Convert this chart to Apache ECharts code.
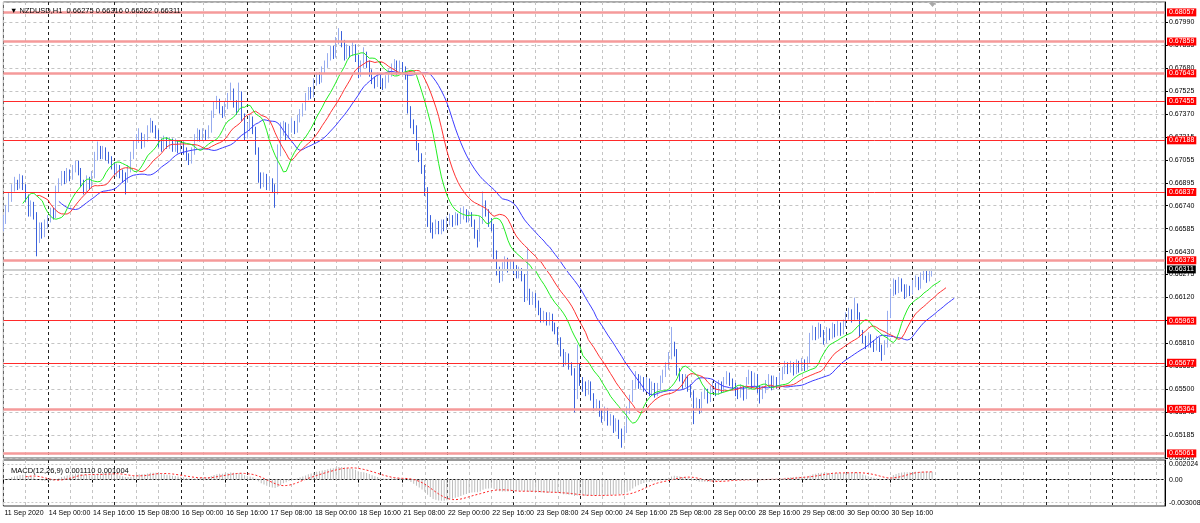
<!DOCTYPE html>
<html>
<head>
<meta charset="utf-8">
<script src="https://cdn.jsdelivr.net/npm/echarts/dist/echarts.min.js"></script>
<style>
html,body{margin:0;padding:0;background:#fff;}
#chart{width:1200px;height:523px;}
</style>
</head>
<body>
<div id="chart"></div>
<script>
// ---------------- DATA ----------------
const symbolTitle = 'NZDUSD,H1  0.66275 0.66316 0.66262 0.66311';
const macdTitle = 'MACD(12,26,9) 0.001110 0.001004';

// x-axis tick labels, one every 16 hourly bars starting at bar 0
const dateLabels = ['11 Sep 2020','14 Sep 00:00','14 Sep 16:00','15 Sep 08:00','16 Sep 00:00','16 Sep 16:00',
  '17 Sep 08:00','18 Sep 00:00','18 Sep 16:00','21 Sep 08:00','22 Sep 00:00','22 Sep 16:00','23 Sep 08:00',
  '24 Sep 00:00','24 Sep 16:00','25 Sep 08:00','28 Sep 00:00','28 Sep 16:00','29 Sep 08:00','30 Sep 00:00','30 Sep 16:00'];

// price axis tick labels (bottom to top)
const priceTickLabels = ['0.65030','0.65185','0.65345','0.65500','0.65655','0.65810','0.65965','0.66120','0.66275',
  '0.66430','0.66585','0.66740','0.66895','0.67055','0.67215','0.67370','0.67525','0.67680','0.67835','0.67990'];

// horizontal levels
const strongLevels = [0.68057, 0.67859, 0.67643, 0.66373, 0.65364, 0.65061];
const thinLevels = [0.67455, 0.67188, 0.66837, 0.65963, 0.65677];
const currentPrice = 0.66311;

// MACD pane labels
const macdTicks = [0.002024, 0, -0.003008];
const macdTickLabels = ['0.002024', '0.00', '-0.003008'];

// hourly bars: open of first bar, then close / high / low of every bar (open = previous close)
const firstOpen = 0.6660;
const closes = [
0.6665,0.6672,0.6680,0.6686,0.6690,0.6688,0.6693,0.6687,0.6680,0.6670,0.6675,0.6668,0.6652,0.6660,0.6655,0.6662,
0.6665,0.6670,0.6668,0.6685,0.6690,0.6695,0.6692,0.6697,0.6694,0.6699,0.6703,0.6698,0.6690,0.6685,0.6692,0.6688,
0.6695,0.6708,0.6712,0.6709,0.6712,0.6708,0.6706,0.6702,0.6698,0.6700,0.6696,0.6694,0.6692,0.6699,0.6708,0.6716,
0.6720,0.6722,0.6716,0.6720,0.6726,0.6730,0.6727,0.6724,0.6717,0.6714,0.6719,0.6716,0.6718,0.6714,0.6717,0.6713,
0.6716,0.6712,0.6708,0.6705,0.6711,0.6720,0.6724,0.6721,0.6724,0.6722,0.6726,0.6736,0.6742,0.6745,0.6740,0.6737,
0.6742,0.6748,0.6752,0.6744,0.6740,0.6750,0.6735,0.6722,0.6728,0.6733,0.6726,0.6712,0.6693,0.6690,0.6694,0.6688,
0.6691,0.6686,0.6684,0.6710,0.6725,0.6729,0.6722,0.6727,0.6730,0.6726,0.6733,0.6737,0.6741,0.6748,0.6752,0.6750,
0.6758,0.6762,0.6760,0.6766,0.6770,0.6775,0.6780,0.6777,0.6786,0.6790,0.6785,0.6776,0.6781,0.6778,0.6782,0.6775,
0.6764,0.6770,0.6777,0.6771,0.6765,0.6760,0.6757,0.6762,0.6758,0.6756,0.6760,0.6764,0.6768,0.6771,0.6766,0.6770,
0.6767,0.6763,0.6740,0.6730,0.6727,0.6715,0.6708,0.6700,0.6685,0.6665,0.6660,0.6658,0.6662,0.6658,0.6662,0.6660,
0.6664,0.6666,0.6663,0.6667,0.6664,0.6668,0.6670,0.6666,0.6668,0.6663,0.6656,0.6652,0.6664,0.6675,0.6670,0.6663,
0.6660,0.6642,0.6630,0.6625,0.6633,0.6637,0.6632,0.6635,0.6631,0.6628,0.6630,0.6626,0.6612,0.6615,0.6610,0.6613,
0.6608,0.6603,0.6598,0.6600,0.6596,0.6599,0.6592,0.6590,0.6583,0.6575,0.6568,0.6572,0.6566,0.6562,0.6545,0.6565,
0.6555,0.6552,0.6548,0.6553,0.6545,0.6538,0.6540,0.6534,0.6530,0.6535,0.6528,0.6530,0.6524,0.6527,0.6520,0.6518,
0.6522,0.6535,0.6543,0.6553,0.6558,0.6553,0.6556,0.6551,0.6555,0.6548,0.6552,0.6547,0.6551,0.6556,0.6560,0.6565,
0.6572,0.6578,0.6575,0.6562,0.6558,0.6553,0.6557,0.6551,0.6547,0.6539,0.6541,0.6536,0.6545,0.6548,0.6543,0.6549,
0.6552,0.6548,0.6553,0.6550,0.6555,0.6559,0.6555,0.6552,0.6548,0.6546,0.6550,0.6545,0.6555,0.6560,0.6553,0.6558,
0.6550,0.6545,0.6549,0.6553,0.6557,0.6552,0.6556,0.6553,0.6558,0.6562,0.6566,0.6563,0.6566,0.6562,0.6567,0.6564,
0.6568,0.6565,0.6569,0.6585,0.6590,0.6586,0.6592,0.6588,0.6583,0.6589,0.6586,0.6592,0.6588,0.6593,0.6589,0.6594,
0.6599,0.6602,0.6598,0.6606,0.6600,0.6588,0.6584,0.6580,0.6585,0.6581,0.6578,0.6583,0.6578,0.6575,0.6580,0.6600,
0.6615,0.6622,0.6617,0.6623,0.6619,0.6614,0.6618,0.6616,0.6621,0.6624,0.6620,0.6626,0.6628,0.6625,0.66275,0.66311];
const highs = [
0.6668,0.6675,0.6683,0.6689,0.6694,0.6692,0.6696,0.6695,0.6689,0.6682,0.6678,0.6677,0.6670,0.6663,0.6663,0.6665,
0.6668,0.6673,0.6673,0.6688,0.6693,0.6698,0.6698,0.6700,0.6699,0.6702,0.6705,0.6705,0.6700,0.6692,0.6695,0.6694,
0.6698,0.6711,0.6718,0.6715,0.6715,0.6714,0.6711,0.6708,0.6704,0.6703,0.6702,0.6699,0.6697,0.6702,0.6711,0.6719,
0.6723,0.6727,0.6724,0.6723,0.6729,0.6734,0.6732,0.6729,0.6726,0.6720,0.6722,0.6721,0.6721,0.6720,0.6720,0.6719,
0.6719,0.6718,0.6714,0.6710,0.6714,0.6723,0.6727,0.6726,0.6727,0.6726,0.6729,0.6739,0.6745,0.6749,0.6747,0.6742,
0.6745,0.6751,0.6758,0.6754,0.6746,0.6758,0.6752,0.6737,0.6731,0.6736,0.6735,0.6728,0.6714,0.6697,0.6697,0.6696,
0.6694,0.6693,0.6689,0.6716,0.6731,0.6732,0.6731,0.6730,0.6734,0.6732,0.6736,0.6740,0.6744,0.6751,0.6755,0.6755,
0.6761,0.6765,0.6765,0.6769,0.6773,0.6778,0.6783,0.6783,0.6789,0.6795,0.6793,0.6787,0.6784,0.6783,0.6786,0.6784,
0.6777,0.6773,0.6782,0.6779,0.6773,0.6767,0.6762,0.6765,0.6764,0.6761,0.6763,0.6767,0.6771,0.6774,0.6773,0.6773,
0.6772,0.6769,0.6765,0.6742,0.6733,0.6729,0.6717,0.6710,0.6702,0.6687,0.6668,0.6663,0.6665,0.6664,0.6665,0.6665,
0.6667,0.6669,0.6668,0.6670,0.6669,0.6673,0.6674,0.6672,0.6671,0.6670,0.6665,0.6658,0.6667,0.6684,0.6678,0.6672,
0.6666,0.6662,0.6644,0.6633,0.6636,0.6640,0.6639,0.6638,0.6637,0.6634,0.6633,0.6632,0.6628,0.6646,0.6618,0.6616,
0.6615,0.6610,0.6605,0.6603,0.6602,0.6602,0.6601,0.6595,0.6592,0.6585,0.6577,0.6575,0.6574,0.6568,0.6564,0.6580,
0.6567,0.6558,0.6555,0.6556,0.6555,0.6547,0.6543,0.6542,0.6536,0.6538,0.6537,0.6533,0.6532,0.6530,0.6529,0.6523,
0.6525,0.6538,0.6546,0.6556,0.6562,0.6560,0.6559,0.6558,0.6558,0.6557,0.6555,0.6554,0.6554,0.6559,0.6563,0.6568,
0.6575,0.6592,0.6582,0.6577,0.6564,0.6560,0.6560,0.6559,0.6553,0.6549,0.6544,0.6543,0.6548,0.6551,0.6550,0.6552,
0.6555,0.6554,0.6556,0.6555,0.6558,0.6562,0.6561,0.6557,0.6554,0.6551,0.6553,0.6552,0.6558,0.6563,0.6562,0.6561,
0.6560,0.6552,0.6552,0.6556,0.6560,0.6559,0.6559,0.6558,0.6561,0.6565,0.6569,0.6568,0.6569,0.6568,0.6570,0.6569,
0.6571,0.6570,0.6572,0.6588,0.6593,0.6592,0.6595,0.6594,0.6590,0.6592,0.6591,0.6595,0.6594,0.6596,0.6595,0.6597,
0.6602,0.6605,0.6604,0.6612,0.6608,0.6602,0.6590,0.6586,0.6588,0.6587,0.6583,0.6586,0.6585,0.6580,0.6583,0.6603,
0.6618,0.6625,0.6624,0.6626,0.6625,0.6621,0.6621,0.6620,0.6624,0.6627,0.6626,0.6629,0.6631,0.6630,0.6630,0.66316];
const lows = [
0.6657,0.6662,0.6670,0.6677,0.6684,0.6685,0.6686,0.6685,0.6677,0.6667,0.6667,0.6665,0.6640,0.6649,0.6652,0.6653,
0.6659,0.6663,0.6665,0.6666,0.6683,0.6688,0.6689,0.6690,0.6691,0.6692,0.6697,0.6695,0.6687,0.6682,0.6683,0.6685,
0.6686,0.6693,0.6705,0.6706,0.6706,0.6705,0.6703,0.6699,0.6695,0.6694,0.6693,0.6690,0.6682,0.6690,0.6697,0.6706,
0.6713,0.6717,0.6713,0.6714,0.6718,0.6724,0.6724,0.6720,0.6714,0.6711,0.6712,0.6713,0.6713,0.6711,0.6711,0.6710,
0.6711,0.6709,0.6705,0.6702,0.6703,0.6709,0.6718,0.6718,0.6719,0.6719,0.6720,0.6724,0.6734,0.6740,0.6737,0.6734,
0.6735,0.6740,0.6746,0.6741,0.6736,0.6738,0.6732,0.6719,0.6720,0.6725,0.6723,0.6709,0.6690,0.6686,0.6687,0.6685,
0.6685,0.6683,0.6673,0.6682,0.6708,0.6722,0.6719,0.6720,0.6724,0.6723,0.6724,0.6731,0.6735,0.6739,0.6746,0.6747,
0.6748,0.6756,0.6757,0.6758,0.6764,0.6768,0.6773,0.6774,0.6775,0.6784,0.6782,0.6773,0.6774,0.6775,0.6776,0.6772,
0.6761,0.6762,0.6768,0.6768,0.6762,0.6757,0.6754,0.6755,0.6755,0.6753,0.6754,0.6758,0.6762,0.6766,0.6763,0.6764,
0.6764,0.6760,0.6737,0.6727,0.6723,0.6712,0.6704,0.6696,0.6681,0.6660,0.6656,0.6652,0.6655,0.6655,0.6655,0.6657,
0.6658,0.6661,0.6660,0.6661,0.6661,0.6662,0.6665,0.6663,0.6663,0.6660,0.6652,0.6646,0.6650,0.6662,0.6667,0.6660,
0.6657,0.6638,0.6627,0.6622,0.6623,0.6630,0.6629,0.6630,0.6628,0.6625,0.6625,0.6623,0.6609,0.6610,0.6607,0.6607,
0.6605,0.6600,0.6595,0.6595,0.6593,0.6593,0.6589,0.6587,0.6580,0.6572,0.6565,0.6566,0.6563,0.6559,0.6534,0.6543,
0.6552,0.6548,0.6545,0.6546,0.6542,0.6535,0.6535,0.6531,0.6527,0.6528,0.6525,0.6525,0.6520,0.6521,0.6516,0.6510,
0.6515,0.6520,0.6533,0.6541,0.6550,0.6550,0.6550,0.6548,0.6549,0.6545,0.6546,0.6544,0.6545,0.6549,0.6554,0.6558,
0.6563,0.6570,0.6572,0.6559,0.6555,0.6550,0.6551,0.6548,0.6544,0.6526,0.6536,0.6533,0.6534,0.6543,0.6540,0.6541,
0.6547,0.6545,0.6546,0.6547,0.6548,0.6553,0.6552,0.6549,0.6545,0.6543,0.6544,0.6542,0.6543,0.6553,0.6550,0.6551,
0.6547,0.6540,0.6543,0.6547,0.6551,0.6549,0.6550,0.6550,0.6551,0.6556,0.6560,0.6560,0.6561,0.6559,0.6560,0.6561,
0.6562,0.6562,0.6563,0.6567,0.6583,0.6583,0.6584,0.6585,0.6580,0.6581,0.6583,0.6584,0.6585,0.6586,0.6586,0.6587,
0.6592,0.6597,0.6595,0.6596,0.6597,0.6585,0.6581,0.6577,0.6578,0.6578,0.6575,0.6576,0.6575,0.6569,0.6573,0.6578,
0.6598,0.6613,0.6614,0.6615,0.6616,0.6611,0.6612,0.6613,0.6614,0.6619,0.6617,0.6618,0.6624,0.6622,0.6623,0.66262];

// ---------------- chart configuration ----------------
const NCAT = 420;               // hourly slots on the time axis (data + empty right margin)
const BARS_PER_LABEL = 16;
const PRICE_MIN = 0.65030, PRICE_MAX = 0.681276, PRICE_STEP = 0.0015579;
const MACD_MIN = -0.003437, MACD_MAX = 0.002544;
const JAW = {period: 13, shift: 8}, TEETH = {period: 8, shift: 5}, LIPS = {period: 5, shift: 3};
const FONT = '"Liberation Sans", Arial, sans-serif';
const BULL = '#97acef', BEAR = '#3a60db';

const n = closes.length;
const opens = closes.map((c, i) => i === 0 ? firstOpen : closes[i - 1]);
const candles = closes.map((c, i) => [opens[i], c, lows[i], highs[i]]);
const cats = Array.from({length: NCAT}, (_, i) => String(i));

// Alligator (smoothed MA of median price, shifted forward)
const median = highs.map((h, i) => (h + lows[i]) / 2);
function smmaShifted(src, p, shift) {
  const out = new Array(NCAT).fill(null);
  let s = null;
  for (let i = 0; i < src.length; i++) {
    if (i < p - 1) continue;
    if (s === null) { let sum = 0; for (let k = i - p + 1; k <= i; k++) sum += src[k]; s = sum / p; }
    else s = (s * (p - 1) + src[i]) / p;
    if (i + shift < NCAT) out[i + shift] = s;
  }
  return out;
}
const jaw = smmaShifted(median, JAW.period, JAW.shift);
const teeth = smmaShifted(median, TEETH.period, TEETH.shift);
const lips = smmaShifted(median, LIPS.period, LIPS.shift);

// MACD(12,26,9): EMA difference, SMA signal
function ema(src, p) { const a = 2 / (p + 1); let e = src[0]; return src.map((v, i) => (e = i === 0 ? v : a * v + (1 - a) * e)); }
const e12 = ema(closes, 12), e26 = ema(closes, 26);
const macdMain = closes.map((c, i) => e12[i] - e26[i]);
const macdSignal = macdMain.map((v, i) => {
  if (i < 8) return null;
  let s = 0; for (let k = i - 8; k <= i; k++) s += macdMain[k]; return s / 9;
});

const isLabelIdx = (i) => i % BARS_PER_LABEL === 0 && i / BARS_PER_LABEL < dateLabels.length;
const grayGrid = (i) => i % 8 === 0 && i % 24 !== 16;
const blackGrid = (i) => i % 24 === 16;

const levelLabel = (bg) => ({
  show: true, position: 'end', distance: 2, color: '#fff', backgroundColor: bg,
  padding: [1, 2, 0, 2], fontSize: 7, fontFamily: FONT,
  formatter: (p) => Number(p.value).toFixed(5)
});

const markData = []
  .concat(strongLevels.map(v => ({yAxis: v, lineStyle: {color: '#f59a9a', width: 2.5, type: 'solid'}, label: levelLabel('#ff0000')})))
  .concat(thinLevels.map(v => ({yAxis: v, lineStyle: {color: '#ff2a2a', width: 1, type: 'solid'}, label: levelLabel('#ff0000')})))
  .concat([{yAxis: currentPrice, lineStyle: {color: '#cfcfcf', width: 2, type: 'solid'}, label: levelLabel('#000')}]);

const hiddenCat = (gridIndex, interval, color) => ({
  type: 'category', gridIndex, data: cats, boundaryGap: false,
  axisLine: {show: false}, axisTick: {show: false}, axisLabel: {show: false},
  splitLine: {show: true, interval, lineStyle: {color, width: 1, type: [3, 3]}}
});

const option = {
  animation: false,
  backgroundColor: '#fff',
  title: [
    {text: '▼ ' + symbolTitle, left: 5, top: 2, textStyle: {fontSize: 7.5, fontWeight: 'normal', color: '#000', fontFamily: FONT}},
    {text: macdTitle, left: 6, top: 462, textStyle: {fontSize: 7.5, fontWeight: 'normal', color: '#000', fontFamily: FONT}}
  ],
  grid: [
    {left: 3.4, right: 35, top: 2, height: 456, show: true, borderColor: '#555', borderWidth: 1, backgroundColor: 'transparent'},
    {left: 3.4, right: 35, top: 460, height: 46, show: true, borderColor: '#333', borderWidth: 1, backgroundColor: 'transparent'}
  ],
  xAxis: [
    hiddenCat(0, grayGrid, '#c4c4c4'),
    hiddenCat(0, blackGrid, '#222'),
    {
      type: 'category', gridIndex: 1, data: cats, boundaryGap: false, position: 'bottom',
      axisLine: {show: true, lineStyle: {color: '#000'}},
      axisTick: {show: true, interval: isLabelIdx, length: 3, lineStyle: {color: '#000'}},
      axisLabel: {show: true, interval: isLabelIdx, align: 'left', margin: 4, padding: [0, 0, 0, 1],
        fontSize: 7, color: '#000', fontFamily: FONT,
        formatter: (v, i) => dateLabels[i / BARS_PER_LABEL] || ''},
      splitLine: {show: true, interval: grayGrid, lineStyle: {color: '#c4c4c4', width: 1, type: [3, 3]}}
    },
    hiddenCat(1, blackGrid, '#222')
  ],
  yAxis: [
    {
      type: 'value', gridIndex: 0, position: 'right', min: PRICE_MIN, max: PRICE_MAX, interval: PRICE_STEP,
      axisLine: {show: true, lineStyle: {color: '#000'}},
      axisTick: {show: true, length: 3, lineStyle: {color: '#000'}},
      axisLabel: {show: true, margin: 4, fontSize: 7, color: '#000', fontFamily: FONT, showMaxLabel: false,
        formatter: (v) => {
          const k = Math.round((v - PRICE_MIN) / PRICE_STEP);
          if (Math.abs(PRICE_MIN + k * PRICE_STEP - v) > PRICE_STEP / 4) return '';
          return priceTickLabels[k] || '';
        }},
      splitLine: {show: true, lineStyle: {color: '#c4c4c4', width: 1, type: [3, 3]}}
    },
    {
      type: 'value', gridIndex: 1, position: 'right', min: MACD_MIN, max: MACD_MAX,
      axisLine: {show: true, lineStyle: {color: '#000'}}, axisTick: {show: false},
      axisLabel: {show: false}, splitLine: {show: false}
    }
  ],
  series: [
    {
      type: 'candlestick', xAxisIndex: 0, yAxisIndex: 0, data: candles, barWidth: 1.3, silent: true,
      itemStyle: {color: BULL, color0: BEAR, borderColor: BULL, borderColor0: BEAR, borderWidth: 1},
      markLine: {silent: true, precision: 5, symbol: ['none', 'none'], animation: false, data: markData}
    },
    {type: 'line', xAxisIndex: 0, yAxisIndex: 0, data: jaw, showSymbol: false, silent: true,
      lineStyle: {color: '#3c3cff', width: 1}},
    {type: 'line', xAxisIndex: 0, yAxisIndex: 0, data: teeth, showSymbol: false, silent: true,
      lineStyle: {color: '#ff3333', width: 1}},
    {type: 'line', xAxisIndex: 0, yAxisIndex: 0, data: lips, showSymbol: false, silent: true,
      lineStyle: {color: '#22ee22', width: 1}},
    {
      type: 'bar', xAxisIndex: 2, yAxisIndex: 1, data: macdMain, barWidth: 1, silent: true,
      itemStyle: {color: '#bdbdbd'},
      markLine: {silent: true, precision: 6, symbol: ['none', 'none'], animation: false,
        data: macdTicks.map((v, i) => ({yAxis: v,
          lineStyle: {color: '#c8c8c8', width: 1, type: [2, 2]},
          label: {show: true, position: 'end', distance: 4, color: '#000', fontSize: 7, fontFamily: FONT,
            formatter: () => macdTickLabels[i]}}))}
    },
    {type: 'line', xAxisIndex: 2, yAxisIndex: 1, data: macdSignal, showSymbol: false, silent: true,
      lineStyle: {color: '#ff2020', width: 1, type: [2, 2]}}
  ],
  graphic: [
    {type: 'polygon', silent: true, shape: {points: [[928, 2], [937, 2], [932.5, 7]]}, style: {fill: '#a8a8a8'}}
  ]
};

const chart = echarts.init(document.getElementById('chart'), null, {renderer: 'canvas'});
chart.setOption(option);
</script>
</body>
</html>
